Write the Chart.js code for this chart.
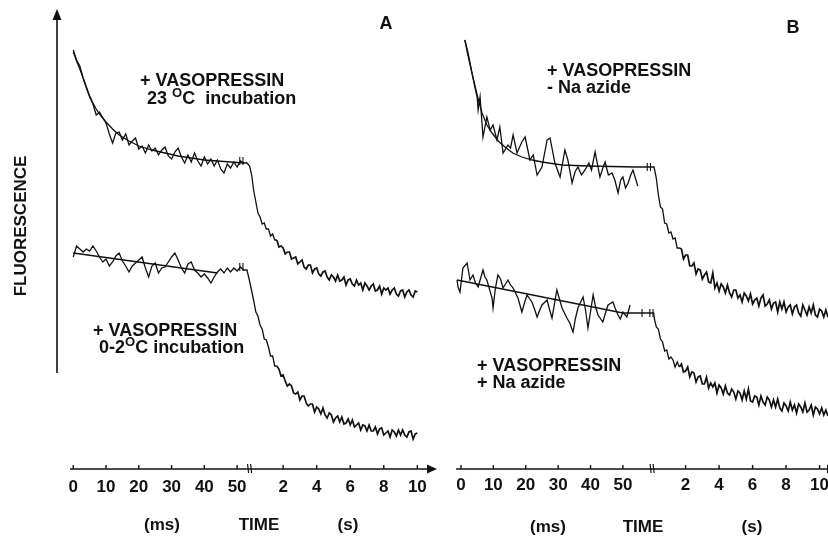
<!DOCTYPE html>
<html>
<head>
<meta charset="utf-8">
<script src="https://cdn.jsdelivr.net/npm/chart.js@4.4.1/dist/chart.umd.min.js"></script>
<style>
  html, body { margin: 0; padding: 0; background: #fff; }
  #wrap { position: relative; width: 828px; height: 536px; overflow: hidden; }
  canvas { position: absolute; top: 0; }
  #panelA { left: 0; }
  #panelB { left: 440px; }
</style>
</head>
<body>
<div id="wrap">
  <canvas id="panelA" width="440" height="536"></canvas>
  <canvas id="panelB" width="388" height="536"></canvas>
</div>
<script>
const INK = '#111';
const FONT = '"Liberation Sans", Arial, Helvetica, sans-serif';

// time axis (same for both panels)
const MS_TICKS = [0, 10, 20, 30, 40, 50];
const S_TICKS = [2, 4, 6, 8, 10];
const TIME_LABELS = ['(ms)', 'TIME', '(s)'];

// fluorescence, arbitrary units. ms part read every 1 ms, s part every 0.125 s
// Panel A, + vasopressin 23 C
const A_TOP_RAW = [419, 409, 403, 391, 381, 372, 365, 354, 357, 351, 346, 335, 326, 336, 337,
  329, 335, 324, 328, 331, 320, 323, 316, 324, 318, 321, 314, 319, 322, 313, 310, 317, 321, 312, 306,
  314, 307, 316, 308, 303, 312, 305, 310, 303, 309, 300, 296, 305, 301, 307, 302, 308, 306, 306];
const A_TOP_FIT_T = [0, 1, 2, 3, 4, 5, 6, 7, 8, 10, 12, 14, 17, 20, 24, 28, 32, 36, 40, 44, 48, 52];
const A_TOP_FIT = [417, 408, 400, 391, 382, 373, 366, 360, 355, 347, 340, 334, 328, 323, 319, 316, 313, 311, 309, 308, 307, 306];
const A_TOP_SEC = [303, 294, 278, 267, 256, 252, 245, 246, 240, 240, 233, 235, 229, 229, 222, 223, 221, 215, 217, 217,
  210, 211, 212, 205, 207, 209, 202, 200, 204, 204, 196, 200, 201, 195, 193, 197, 198, 192, 189, 194,
  192, 188, 194, 188, 189, 192, 184, 189, 190, 185, 183, 189, 184, 186, 179, 186, 183, 179, 183, 185,
  178, 179, 183, 175, 181, 179, 181, 175, 179, 181, 175, 173, 178, 179, 172, 177, 179, 174, 172, 178, 177];

// Panel A, + vasopressin 0-2 C
const A_BOT_RAW = [212, 223, 220, 217, 220, 218, 223, 218, 212, 207, 210, 203, 207, 213, 216, 208, 203, 197, 203, 206,
  209, 212, 201, 192, 203, 206, 196, 201, 202, 207, 212, 216, 209, 201, 196, 205, 207, 199, 196, 192,
  195, 191, 186, 192, 197, 200, 196, 201, 197, 201, 198, 202, 199, 199];
const A_BOT_FIT_T = [0, 44];
const A_BOT_FIT = [216, 196];
const A_BOT_SEC = [188, 178, 168, 157, 153, 144, 140, 130, 129, 122, 113, 113, 103, 103, 100, 93, 94, 88, 83, 85,
  83, 76, 75, 77, 69, 73, 73, 66, 63, 65, 65, 57, 62, 60, 55, 61, 54, 51, 56, 54,
  47, 51, 53, 47, 52, 45, 46, 50, 44, 49, 42, 44, 46, 39, 44, 43, 38, 44, 38, 38,
  42, 35, 40, 41, 34, 36, 38, 32, 39, 37, 33, 39, 34, 39, 34, 32, 37, 38, 30, 35, 36];

// Panel B, + vasopressin - Na azide
const B_TOP_RAW_T = [1.2, 2.2, 3.4, 4.3, 5.0, 5.3, 5.9, 6.8, 8.0, 9.0, 9.9, 11.1, 12.0, 13.0, 14.5, 15.3, 16.1, 17.3, 18.8, 19.8,
  21.3, 22.3, 23.5, 25.0, 26.0, 26.6, 27.5, 29.0, 30.6, 32.1, 33.0, 34.3, 35.2, 36.1, 37.2, 38.3, 39.5, 40.3, 41.4, 42.9,
  43.8, 44.5, 45.5, 46.6, 47.5, 48.5, 49.3, 50.0, 50.8, 51.6, 52.4, 53.1, 54.3, 54.6];
const B_TOP_RAW = [429, 416, 396, 382, 372, 359, 372, 332, 352, 339, 344, 329, 342, 316, 324, 321, 334, 316, 327, 332,
  309, 314, 294, 302, 319, 329, 331, 306, 292, 319, 309, 286, 297, 302, 294, 299, 306, 299, 317, 292,
  301, 307, 294, 296, 289, 276, 289, 292, 281, 286, 294, 299, 286, 283];
const B_TOP_FIT_T = [1.2, 2, 3.4, 5, 6.5, 8, 9.6, 11.5, 13.6, 16, 18.8, 22, 25, 31.2, 39.2, 53.7, 59.6];
const B_TOP_FIT = [429, 416, 396, 374, 356, 344, 336, 328, 322, 316, 312, 309, 307, 304, 303, 302, 302];
const B_TOP_SEC = [291, 274, 262, 260, 246, 245, 236, 237, 230, 231, 221, 221, 220, 210, 214, 214, 203, 203, 206, 195,
  200, 199, 190, 194, 197, 187, 186, 196, 181, 186, 178, 185, 182, 176, 184, 176, 172, 179, 179, 171,
  174, 167, 176, 173, 168, 175, 165, 169, 171, 163, 171, 174, 163, 165, 169, 160, 166, 167, 157, 167,
  160, 167, 157, 162, 164, 155, 162, 164, 156, 153, 164, 159, 154, 162, 156, 164, 154, 152, 160, 158,
  152, 159, 152]; // from 0.25 s

// Panel B, + vasopressin + Na azide
const B_BOT_RAW_T = [-1.2, -0.9, -0.3, 0.6, 1.9, 2.8, 3.7, 4.5, 5.3, 6.8, 7.4, 8.0, 9.6, 9.9, 10.6, 11.4, 12.2, 13.0, 14.5, 15.3,
  16.1, 17.6, 18.8, 19.6, 20.4, 21.9, 22.7, 23.5, 24.2, 25.0, 26.6, 27.3, 28.1, 29.6, 30.4, 31.2, 32.7, 33.6, 34.6, 35.3,
  36.1, 37.7, 38.5, 39.2, 40.8, 41.5, 42.3, 43.8, 44.6, 45.4, 46.9, 47.7, 48.5, 49.2, 50.0, 51.2, 52.2];
const B_BOT_RAW = [189, 182, 177, 201, 206, 189, 194, 186, 182, 199, 192, 189, 171, 161, 180, 194, 190, 181, 189, 184,
  181, 171, 157, 166, 174, 167, 160, 152, 158, 164, 169, 160, 151, 179, 170, 161, 151, 146, 137, 150,
  161, 172, 158, 141, 174, 163, 154, 147, 156, 164, 167, 160, 154, 150, 157, 152, 164];
const B_BOT_FIT_T = [-1.2, 50.0, 59.5];
const B_BOT_FIT = [189, 156, 156];
const B_BOT_SEC = [151, 142, 140, 130, 127, 118, 119, 110, 112, 109, 102, 107, 102, 105, 97, 98, 102, 92, 97, 96,
  87, 92, 93, 85, 85, 92, 81, 86, 82, 86, 76, 84, 81, 75, 83, 76, 74, 80, 77, 70,
  78, 76, 69, 78, 70, 80, 68, 67, 73, 72, 64, 73, 67, 64, 72, 69, 62, 69, 62, 70,
  61, 58, 66, 63, 58, 67, 59, 64, 56, 65, 62, 57, 66, 57, 59, 64, 54, 62, 60, 55,
  61, 54, 59, 53]; // from 0.125 s

const SEC_STEP = 0.125;

function onGrid(start, step, vals) { return vals.map((v, i) => ({ t: start + i * step, v })); }
function pairs(ts, vals) { return ts.map((t, i) => ({ t, v: vals[i] })); }
function msPts(list) { return list.map(p => ({ x: p.t, y: p.v })); }
// the seconds part sits after the axis break, at its own scale
function secPts(list, brk, k) { return list.map(p => ({ x: brk + p.t * k, y: p.v })); }

function line(ctx, x1, y1, x2, y2) {
  ctx.beginPath(); ctx.moveTo(x1, y1); ctx.lineTo(x2, y2); ctx.stroke();
}

function richText(ctx, parts, x, y, size) {
  let cx = x;
  parts.forEach(p => {
    if (p.sup) {
      ctx.font = `bold ${size - 5}px ${FONT}`;
      ctx.fillText(p.sup, cx, y - 7);
    } else {
      ctx.font = `bold ${size}px ${FONT}`;
      ctx.fillText(p.t, cx, y);
    }
    cx += ctx.measureText(p.sup || p.t).width;
  });
}

function framePlugin(p) {
  return {
    id: 'frame',
    afterDraw(chart) {
      const { ctx, chartArea: area, scales: { x, y } } = chart;
      const axisY = y.getPixelForValue(0);
      const secPx = s => x.getPixelForValue(p.brk + s * p.k);
      ctx.save();
      ctx.strokeStyle = INK;
      ctx.fillStyle = INK;

      // time axis with arrow
      ctx.lineWidth = 1.6;
      line(ctx, area.left, axisY, p.arrowX - 6, axisY);
      ctx.beginPath();
      ctx.moveTo(p.arrowX, axisY);
      ctx.lineTo(p.arrowX - 10, axisY - 4.5);
      ctx.lineTo(p.arrowX - 10, axisY + 4.5);
      ctx.closePath();
      ctx.fill();

      ctx.lineWidth = 1.4;
      MS_TICKS.forEach(t => { const px = x.getPixelForValue(t); line(ctx, px, axisY, px, axisY - 4); });
      S_TICKS.forEach(s => { const px = secPx(s); line(ctx, px, axisY, px, axisY - 4); });

      // axis break
      const bx = x.getPixelForValue(p.brk);
      ctx.lineWidth = 1.2;
      line(ctx, bx - 2, axisY - 5, bx - 1, axisY + 4);
      line(ctx, bx + 1, axisY - 5, bx + 2, axisY + 4);

      // break marks on the traces
      p.traceMarks.forEach(m => {
        const pts = chart.data.datasets[m.ds].data;
        let best = pts[0];
        pts.forEach(pt => { if (Math.abs(pt.x - m.at) < Math.abs(best.x - m.at)) best = pt; });
        const px = x.getPixelForValue(m.at), py = y.getPixelForValue(best.y);
        ctx.lineWidth = 1.1;
        (m.single ? [0] : [-1.6, 1.6]).forEach(d => line(ctx, px + d, py - 4, px + d, py + 4));
      });

      // tick labels
      ctx.textAlign = 'center';
      ctx.textBaseline = 'middle';
      ctx.font = `bold 17px ${FONT}`;
      MS_TICKS.forEach(t => ctx.fillText(String(t), x.getPixelForValue(t), p.tickY));
      S_TICKS.forEach(s => ctx.fillText(String(s), secPx(s), p.tickY));
      TIME_LABELS.forEach((txt, i) => ctx.fillText(txt, p.titleX[i], p.titleY));

      // panel letter
      ctx.font = `bold 18px ${FONT}`;
      ctx.textBaseline = 'alphabetic';
      ctx.fillText(p.letter, p.letterPos[0], p.letterPos[1]);

      // fluorescence axis (panel A only)
      if (p.yAxis) {
        const yx = area.left - 13;
        ctx.lineWidth = 1.6;
        line(ctx, yx, area.top + 8, yx, y.getPixelForValue(p.yAxis.bottom));
        ctx.beginPath();
        ctx.moveTo(yx, area.top);
        ctx.lineTo(yx - 4.5, area.top + 11);
        ctx.lineTo(yx + 4.5, area.top + 11);
        ctx.closePath();
        ctx.fill();
        ctx.save();
        ctx.translate(p.yAxis.labelPos[0], p.yAxis.labelPos[1]);
        ctx.rotate(-Math.PI / 2);
        ctx.textAlign = 'center';
        ctx.textBaseline = 'middle';
        ctx.font = `bold 17px ${FONT}`;
        ctx.fillText('FLUORESCENCE', 0, 0);
        ctx.restore();
      }

      // condition labels
      ctx.textAlign = 'left';
      ctx.textBaseline = 'alphabetic';
      p.notes.forEach(n => richText(ctx, n.parts, n.x, n.y, 18));
      ctx.restore();
    }
  };
}

function makeChart(p) {
  // slow (seconds) part of each record is recorded denser, so it prints heavier
  const slowFrom = p.brk + 1.5 * p.k;
  return new Chart(document.getElementById(p.id), {
    type: 'line',
    data: {
      datasets: p.series.map(d => ({
        data: d,
        borderColor: INK,
        borderWidth: 1.3,
        pointRadius: 0,
        fill: false,
        tension: 0,
        clip: false,
        segment: { borderWidth: c => (c.p0.parsed.x > slowFrom ? 1.7 : 1.3) }
      }))
    },
    options: {
      responsive: false,
      animation: false,
      layout: { padding: p.pad },
      scales: {
        x: { type: 'linear', min: p.xMin, max: p.xMax, display: false },
        y: { type: 'linear', min: 0, max: 460, display: false }
      },
      plugins: { legend: { display: false }, tooltip: { enabled: false } }
    },
    plugins: [framePlugin(p)]
  });
}

const brkA = 53.8, kA = 5.12;
makeChart({
  id: 'panelA',
  xMin: -1, xMax: 111,
  pad: { left: 70, right: 3, top: 9, bottom: 67 },
  brk: brkA, k: kA,
  arrowX: 437,
  tickY: 487,
  titleX: [162, 259, 348], titleY: 525,
  letter: 'A', letterPos: [386, 29],
  yAxis: { bottom: 96, labelPos: [21, 226] },
  series: [
    msPts(onGrid(0, 1, A_TOP_RAW)).concat(secPts(onGrid(0, SEC_STEP, A_TOP_SEC), brkA, kA)),
    msPts(pairs(A_TOP_FIT_T, A_TOP_FIT)),
    msPts(onGrid(0, 1, A_BOT_RAW)).concat(secPts(onGrid(0, SEC_STEP, A_BOT_SEC), brkA, kA)),
    msPts(pairs(A_BOT_FIT_T, A_BOT_FIT))
  ],
  traceMarks: [{ ds: 0, at: 51.3 }, { ds: 2, at: 51.3 }],
  notes: [
    { x: 140, y: 86, parts: [{ t: '+ VASOPRESSIN' }] },
    { x: 147, y: 104, parts: [{ t: '23 ' }, { sup: 'O' }, { t: 'C  incubation' }] },
    { x: 93, y: 336, parts: [{ t: '+ VASOPRESSIN' }] },
    { x: 99, y: 353, parts: [{ t: '0-2' }, { sup: 'O' }, { t: 'C incubation' }] }
  ]
});

const brkB = 59.0, kB = 5.17;
makeChart({
  id: 'panelB',
  xMin: -1.5, xMax: 113.3,
  pad: { left: 16.1, right: 0, top: 9, bottom: 67 },
  brk: brkB, k: kB,
  arrowX: 397,
  tickY: 485,
  titleX: [108, 203, 312], titleY: 527,
  letter: 'B', letterPos: [353, 33],
  series: [
    msPts(pairs(B_TOP_RAW_T, B_TOP_RAW)),
    msPts(pairs(B_TOP_FIT_T, B_TOP_FIT)).concat(secPts(onGrid(0.25, SEC_STEP, B_TOP_SEC), brkB, kB)),
    msPts(pairs(B_BOT_RAW_T, B_BOT_RAW)),
    msPts(pairs(B_BOT_FIT_T, B_BOT_FIT)).concat(secPts(onGrid(0.125, SEC_STEP, B_BOT_SEC), brkB, kB))
  ],
  traceMarks: [{ ds: 1, at: 58.0 }, { ds: 3, at: 55.9, single: true }, { ds: 3, at: 58.8 }],
  notes: [
    { x: 107, y: 76, parts: [{ t: '+ VASOPRESSIN' }] },
    { x: 107, y: 93, parts: [{ t: '- Na azide' }] },
    { x: 37, y: 371, parts: [{ t: '+ VASOPRESSIN' }] },
    { x: 37, y: 388, parts: [{ t: '+ Na azide' }] }
  ]
});
</script>
</body>
</html>
